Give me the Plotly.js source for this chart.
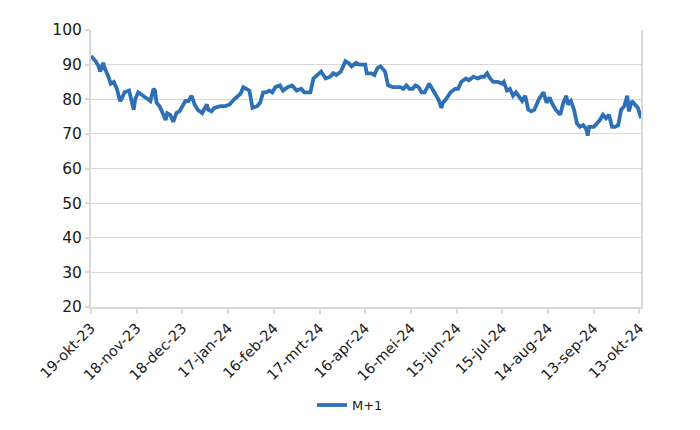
<!DOCTYPE html>
<html>
<head>
<meta charset="utf-8">
<script src="https://cdn.plot.ly/plotly-3.0.1.min.js"></script>
<style>html,body{margin:0;padding:0;background:#fff;}#chart{width:700px;height:430px;}</style>
</head>
<body>
<div id="chart"></div>
<script>
const seriesName = "M+1";
const dates = [
"2023-10-19","2023-10-22","2023-10-24","2023-10-25","2023-10-27","2023-10-28","2023-10-30",
"2023-11-01","2023-11-03","2023-11-05","2023-11-07","2023-11-08","2023-11-10","2023-11-13","2023-11-16","2023-11-17","2023-11-19","2023-11-22","2023-11-25","2023-11-27","2023-11-29","2023-11-30",
"2023-12-01","2023-12-03","2023-12-05","2023-12-07","2023-12-08","2023-12-10","2023-12-12","2023-12-14","2023-12-16","2023-12-18","2023-12-20","2023-12-22","2023-12-24","2023-12-26","2023-12-28","2023-12-31",
"2024-01-03","2024-01-04","2024-01-06","2024-01-08","2024-01-12","2024-01-15","2024-01-18","2024-01-21","2024-01-25","2024-01-27","2024-01-29","2024-01-31",
"2024-02-02","2024-02-05","2024-02-07","2024-02-09","2024-02-11","2024-02-13","2024-02-15","2024-02-17","2024-02-20","2024-02-22","2024-02-25","2024-02-28",
"2024-03-02","2024-03-05","2024-03-07","2024-03-11","2024-03-13","2024-03-16","2024-03-18","2024-03-21","2024-03-24","2024-03-26","2024-03-28","2024-03-31",
"2024-04-03","2024-04-05","2024-04-07","2024-04-10","2024-04-12","2024-04-16","2024-04-17","2024-04-20","2024-04-22","2024-04-24","2024-04-26","2024-04-29",
"2024-05-01","2024-05-04","2024-05-07","2024-05-09","2024-05-11","2024-05-13","2024-05-15","2024-05-17","2024-05-19","2024-05-21","2024-05-23","2024-05-25","2024-05-28","2024-05-31",
"2024-06-03","2024-06-05","2024-06-06","2024-06-08","2024-06-11","2024-06-14","2024-06-16","2024-06-18","2024-06-21","2024-06-23","2024-06-26","2024-06-29",
"2024-07-01","2024-07-03","2024-07-05","2024-07-07","2024-07-09","2024-07-12","2024-07-15","2024-07-16","2024-07-18","2024-07-20","2024-07-22","2024-07-24","2024-07-26","2024-07-28","2024-07-30",
"2024-08-01","2024-08-03","2024-08-05","2024-08-08","2024-08-11","2024-08-13","2024-08-15","2024-08-17","2024-08-19","2024-08-22","2024-08-24","2024-08-26","2024-08-27","2024-08-29","2024-08-31",
"2024-09-02","2024-09-04","2024-09-06","2024-09-08","2024-09-09","2024-09-10","2024-09-13","2024-09-15","2024-09-17","2024-09-19","2024-09-21","2024-09-23","2024-09-25","2024-09-27","2024-09-29",
"2024-10-01","2024-10-03","2024-10-05","2024-10-06","2024-10-08","2024-10-10","2024-10-12","2024-10-14"
];
const values = [
92.5,91,89.5,88,90.5,89,87,
84.5,85,83,79.5,80,82,82.5,77,80,82,81,80,79.5,83,82.5,
79,78,76,74,76,75.5,73.5,76,76.5,78,79.5,79.5,81,78.5,77,76,
78.5,77,76.5,77.5,78,78,78.5,80,81.5,83.5,83,82.5,
77.5,78,79,82,82,82.5,82,83.5,84,82.5,83.5,84,
82.5,83,82,82,86,87,88,86,86.5,87.5,87,88,
91,90.5,89.5,90.5,90,90,87.5,87.5,87,89,89.5,88,
84,83.5,83.5,83.5,83,84,83,83,84,83.5,82,82,84.5,82,
80,77.5,79,80,82,83,83,85,86,85.5,86.5,86,
86.5,86.5,87.5,86,85,85,84.5,85,82.5,83,81,82,80.5,79.5,81,
77,76.5,77,80,82,79,80.5,78.5,77,75.5,79,81,78.5,79.5,77,
73,72,72.5,71.5,69.5,72,72,73,74,75.5,74.5,75.5,72,72,72.5,
77,78,81,76.5,79.5,78.5,77.5,74.5
];
const tickDates = ["2023-10-19","2023-11-18","2023-12-18","2024-01-17","2024-02-16","2024-03-17","2024-04-16","2024-05-16","2024-06-15","2024-07-15","2024-08-14","2024-09-13","2024-10-13"];
const tickLabels = ["19-okt-23","18-nov-23","18-dec-23","17-jan-24","16-feb-24","17-mrt-24","16-apr-24","16-mei-24","15-jun-24","15-jul-24","14-aug-24","13-sep-24","13-okt-24"];
const yTicks = [20,30,40,50,60,70,80,90,100];

const trace = {
  x: dates, y: values, type: 'scatter', mode: 'lines', name: seriesName,
  line: {color: '#2e70b5', width: 3.8}
};
const layout = {
  width: 700, height: 430,
  margin: {l: 91, r: 59, t: 30, b: 123},
  paper_bgcolor: '#fff', plot_bgcolor: '#fff',
  font: {family: 'DejaVu Sans, Liberation Sans, sans-serif', color: '#1a1a1a'},
  showlegend: true,
  legend: {orientation: 'h', xref: 'container', yref: 'container', x: 0.5, xanchor: 'center', y: 0.058, yanchor: 'middle', font: {size: 13, color: '#1a1a1a'}},
  xaxis: {
    type: 'date', range: ['2023-10-19', '2024-10-14'],
    tickmode: 'array', tickvals: tickDates, ticktext: tickLabels,
    tickangle: -45, tickfont: {size: 14.5},
    showgrid: false, zeroline: false,
    showline: true, linecolor: '#d9d9d9', linewidth: 2,
    ticks: 'outside', ticklen: 5, tickcolor: '#d9d9d9', tickwidth: 2
  },
  yaxis: {
    range: [20, 100], tickmode: 'array', tickvals: yTicks,
    tickfont: {size: 15.5},
    showgrid: true, gridcolor: '#d9d9d9', gridwidth: 1,
    zeroline: false, showline: true, linecolor: '#d9d9d9', linewidth: 2, mirror: true,
    ticks: 'outside', ticklen: 4, tickcolor: '#d9d9d9', tickwidth: 2
  }
};
Plotly.newPlot('chart', [trace], layout, {displayModeBar: false, staticPlot: true});
</script>
</body>
</html>
